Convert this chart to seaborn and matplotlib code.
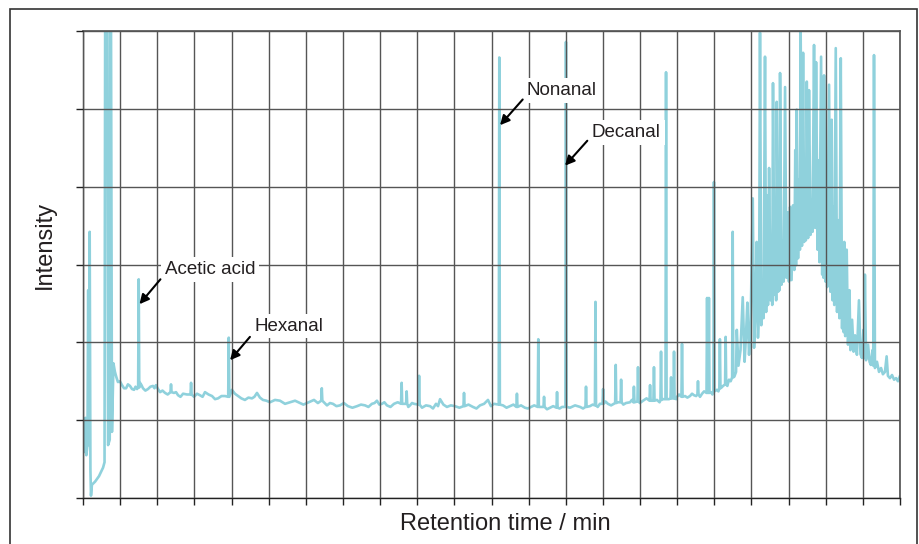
import numpy as np
import pandas as pd
import seaborn as sns
import matplotlib.pyplot as plt
from matplotlib.patches import Rectangle

sns.set_theme(style="white")
plt.rcParams['font.family'] = ['Liberation Sans', 'DejaVu Sans']

# ---- data (retention time in min, intensity in arbitrary units) ----
early_time = [0.00, 0.03, 0.05, 0.10, 0.13, 0.18, 0.24, 0.28, 0.31, 0.36, 0.40, 0.43,
              0.48, 0.65, 0.86, 1.08, 1.16, 1.21, 1.25, 1.29, 1.35, 1.44, 1.48, 1.56]
early_int = [0.66, 0.62, 0.75, 0.59, 1.03, 0.55, 0.68, 2.67, 0.68, 3.42, 0.36, 0.03,
             0.17, 0.21, 0.28, 0.39, 0.46, 9.00, 5.63, 9.00, 0.68, 0.75, 9.00, 0.85]

base_time = [1.64, 1.72, 1.88, 2.10, 2.32, 2.53, 2.75, 2.91, 3.07, 3.23, 3.50, 3.77,
             3.93, 4.15, 4.42, 4.90, 5.12, 5.39, 5.98, 6.30, 6.57, 6.95, 7.27, 7.65,
             8.02, 8.35, 8.72, 9.10, 9.37, 9.69, 10.07, 10.61, 11.15, 11.69, 12.06, 12.44,
             13.14, 13.46, 13.84, 14.27, 14.76, 15.19, 15.56, 15.83, 16.10, 16.37, 16.75, 17.29,
             17.61, 17.83, 18.26, 18.69, 19.01, 19.23, 19.60, 20.03, 21.00, 21.38, 21.81, 22.13,
             22.62, 23.00, 23.80, 24.13, 25.15, 25.80, 26.23, 26.77, 27.30, 27.84, 28.27, 28.81,
             29.24, 29.46, 30.16, 30.91, 31.24, 31.56, 31.99, 32.42, 32.69, 32.91, 33.34, 33.82,
             34.14, 34.47, 34.79, 35.17]
base_int = [1.73, 1.62, 1.49, 1.45, 1.41, 1.44, 1.39, 1.40, 1.48, 1.41, 1.40, 1.44,
            1.45, 1.36, 1.35, 1.35, 1.32, 1.34, 1.30, 1.32, 1.36, 1.31, 1.28, 1.31,
            1.39, 1.31, 1.26, 1.28, 1.35, 1.26, 1.23, 1.25, 1.23, 1.22, 1.22, 1.26,
            1.19, 1.21, 1.19, 1.18, 1.18, 1.19, 1.21, 1.25, 1.21, 1.19, 1.21, 1.21,
            1.19, 1.21, 1.16, 1.18, 1.21, 1.27, 1.17, 1.18, 1.17, 1.19, 1.26, 1.21,
            1.19, 1.18, 1.16, 1.17, 1.16, 1.17, 1.16, 1.17, 1.18, 1.21, 1.21, 1.23,
            1.22, 1.23, 1.25, 1.26, 1.27, 1.27, 1.30, 1.31, 1.31, 1.32, 1.34, 1.36,
            1.39, 1.44, 1.52, 1.62]

# baseline noise between the main baseline readings
ripple_time = [1.80, 1.99, 2.21, 2.42, 2.64, 2.83, 3.15, 3.36, 3.63, 3.85, 4.04, 4.28,
               4.56, 5.01, 5.25, 5.60, 6.14, 6.44, 6.76, 7.11, 7.46, 8.18, 8.53, 8.91,
               9.23, 9.53, 9.88, 10.34, 10.88, 11.42, 11.87, 12.25, 12.65, 13.30, 13.65, 14.05,
               14.51, 14.97, 15.37, 15.70, 15.96, 16.23, 16.56, 16.95, 17.52, 17.72, 18.47, 18.85,
               19.12, 19.41, 19.81, 20.27, 20.76, 21.19, 21.60, 21.97, 22.81, 23.18, 23.59, 23.96,
               24.30, 24.99, 25.32, 25.67, 26.50, 26.93, 27.45, 27.72, 28.14, 28.44, 29.10, 29.56,
               29.99, 30.35, 31.05, 31.95, 32.10, 32.55, 32.80, 33.02, 33.23, 33.45, 33.90, 34.22,
               34.39, 34.70, 34.88, 35.08]
ripple_int = [1.55, 1.50, 1.41, 1.46, 1.40, 1.43, 1.45, 1.38, 1.43, 1.41, 1.40, 1.38,
              1.33, 1.36, 1.30, 1.33, 1.34, 1.30, 1.33, 1.27, 1.31, 1.34, 1.28, 1.29,
              1.30, 1.29, 1.25, 1.26, 1.21, 1.25, 1.20, 1.24, 1.22, 1.22, 1.18, 1.22,
              1.16, 1.20, 1.17, 1.22, 1.20, 1.23, 1.17, 1.23, 1.17, 1.22, 1.19, 1.15,
              1.18, 1.20, 1.19, 1.16, 1.20, 1.15, 1.21, 1.18, 1.16, 1.20, 1.19, 1.15,
              1.19, 1.14, 1.18, 1.15, 1.19, 1.15, 1.20, 1.17, 1.24, 1.19, 1.20, 1.26,
              1.22, 1.28, 1.23, 1.27, 1.33, 1.29, 1.34, 1.31, 1.30, 1.37, 1.33, 1.37,
              1.42, 1.44, 1.50, 1.56]

peak_time = [3.00, 4.74, 5.82, 7.85, 12.86, 17.16, 17.43, 18.10, 20.52, 22.42, 23.37, 24.52,
             24.83, 25.53, 26.01, 27.09, 27.60, 28.01, 28.69, 28.98, 29.67, 29.89, 30.54, 30.75,
             31.13, 31.40, 31.67, 31.83, 32.26, 33.12, 33.61, 33.71, 33.98, 34.30, 34.61, 34.99]
peak_base = [1.42, 1.36, 1.33, 1.30, 1.25, 1.21, 1.21, 1.20, 1.18, 1.20, 1.17, 1.17,
             1.17, 1.16, 1.17, 1.17, 1.19, 1.21, 1.22, 1.23, 1.23, 1.24, 1.25, 1.25,
             1.26, 1.27, 1.28, 1.28, 1.30, 1.33, 1.35, 1.35, 1.37, 1.41, 1.46, 1.55]
peak_top = [2.81, 1.46, 1.48, 2.06, 1.41, 1.48, 1.37, 1.57, 1.35, 5.66, 1.34, 2.04,
            1.30, 1.36, 5.86, 1.43, 2.52, 1.40, 1.71, 1.52, 1.43, 1.68, 1.45, 1.68,
            1.88, 5.47, 1.55, 1.88, 1.98, 1.50, 2.57, 2.57, 4.06, 2.04, 2.07, 3.42]

hump_time = [35.21, 35.30, 35.41, 35.53, 35.63, 35.70, 35.78, 35.87, 35.95, 36.07, 36.14, 36.20,
             36.28, 36.35, 36.41, 36.46, 36.53, 36.59, 36.65, 36.73, 36.79, 36.82, 36.89, 36.95,
             37.03, 37.08, 37.12, 37.16, 37.24, 37.30, 37.33, 37.36, 37.44, 37.48, 37.51, 37.54,
             37.62, 37.67, 37.73, 37.81, 37.88, 37.95, 38.02, 38.08, 38.16, 38.24, 38.31, 38.36,
             38.40, 38.44, 38.51, 38.56, 38.61, 38.65, 38.72, 38.78, 38.84, 38.88, 38.93, 38.98,
             39.05, 39.10, 39.18, 39.25, 39.29, 39.37, 39.43, 39.48, 39.56, 39.61, 39.66, 39.75,
             39.81, 39.85, 39.88, 39.91, 39.99, 40.04, 40.08, 40.18, 40.25, 40.32, 40.37, 40.42,
             40.46, 40.54, 40.61, 40.69, 40.74, 40.81, 40.88, 40.93, 40.97, 41.00, 41.05, 41.13,
             41.20, 41.28, 41.33, 41.42, 41.50, 41.58, 41.68, 41.79, 41.87, 41.95, 42.03, 42.07,
             42.11, 42.17, 42.28, 42.36, 42.43, 42.52, 42.56, 42.60, 42.65, 42.76, 42.87, 42.98,
             43.08, 43.19, 43.28, 43.35, 43.46, 43.57, 43.68, 43.79, 43.89, 44.00]
hump_int = [2.16, 1.70, 1.90, 2.58, 1.75, 2.06, 2.51, 1.84, 2.16, 3.85, 1.93, 2.29,
            3.29, 2.06, 2.42, 5.98, 2.22, 2.80, 2.31, 5.67, 2.39, 3.89, 2.48, 4.24,
            2.54, 3.19, 2.48, 5.33, 2.61, 3.35, 2.54, 5.09, 2.65, 3.96, 2.67, 5.46,
            2.74, 3.31, 2.78, 5.28, 2.83, 3.67, 2.78, 3.74, 2.80, 3.76, 2.93, 4.47,
            2.99, 4.99, 3.08, 4.09, 3.19, 5.99, 3.24, 5.72, 3.29, 3.48, 3.31, 5.35,
            3.34, 5.24, 3.38, 3.83, 3.42, 5.82, 3.47, 5.60, 3.19, 4.34, 3.03, 5.67,
            2.87, 4.05, 2.83, 5.43, 2.78, 3.83, 2.71, 5.31, 2.65, 4.86, 2.54, 3.74,
            2.48, 5.78, 2.39, 3.57, 2.31, 5.65, 2.18, 3.06, 2.13, 3.29, 2.08, 3.19,
            1.97, 2.67, 1.90, 2.29, 1.88, 2.09, 1.84, 2.54, 1.85, 1.80, 2.16, 1.80,
            2.87, 1.77, 1.97, 1.75, 1.71, 1.90, 1.70, 5.69, 1.67, 1.75, 1.62, 1.67,
            1.59, 1.62, 1.82, 1.57, 1.54, 1.58, 1.52, 1.54, 1.50, 1.57]

annot_labels = ["Acetic acid", "Hexanal", "Nonanal", "Decanal"]
annot_head_t = [3.04, 7.92, 22.46, 25.96]
annot_head_y = [2.49, 1.77, 4.79, 4.27]
annot_tail_t = [4.17, 8.99, 23.68, 27.16]
annot_tail_y = [2.81, 2.07, 5.12, 4.59]
annot_text_t = [4.42, 9.26, 23.91, 27.41]
annot_text_y = [2.88, 2.15, 5.18, 4.64]

# ---- build chromatogram table ----
rows = list(zip(early_time, early_int)) + list(zip(base_time, base_int))
rows += list(zip(ripple_time, ripple_int))
for t, b, h in zip(peak_time, peak_base, peak_top):
    rows += [(t - 0.03, b), (t, h), (t + 0.03, b)]
rows += list(zip(hump_time, hump_int))
df = pd.DataFrame(rows, columns=["time", "intensity"]).sort_values("time", kind="stable")

# ---- figure ----
W, H = 919, 544
fig = plt.figure(figsize=(W / 100, H / 100), dpi=100)
ax = fig.add_axes([83 / W, 1 - 498 / H, 817 / W, 467 / H])

sns.lineplot(data=df, x="time", y="intensity", ax=ax, estimator=None, sort=False,
             color="#8fd1dc", lw=1.9)

ax.set_xlim(0, 44)
ax.set_ylim(0, 6)
ax.set_xticks(np.arange(0, 45, 2))
ax.set_yticks(np.arange(0, 7, 1))
ax.set_xticklabels([])
ax.set_yticklabels([])
ax.tick_params(direction="out", length=5, width=1, color="#222222", bottom=True, left=True)
ax.grid(True, color="#555555", lw=1)
ax.set_axisbelow(False)
for side in ["top", "right"]:
    ax.spines[side].set_color("#555555")
for side in ["left", "bottom"]:
    ax.spines[side].set_color("#222222")
    ax.spines[side].set_linewidth(1)

ax.set_xlabel("Retention time / min", fontsize=17, color="#231f20")
ax.set_ylabel("Intensity", fontsize=17, color="#231f20")
ax.xaxis.set_label_coords(0.5165, -0.033)
ax.yaxis.set_label_coords(-0.033, 0.542)

for lab, ht, hy, tt, ty, xt, yt in zip(annot_labels, annot_head_t, annot_head_y,
                                       annot_tail_t, annot_tail_y, annot_text_t, annot_text_y):
    ax.text(xt, yt, lab, fontsize=13.5, color="#231f20", ha="left", va="baseline",
            bbox=dict(boxstyle="square,pad=0.2", fc="white", ec="none"), zorder=4)
    ax.annotate("", xy=(ht, hy), xytext=(tt, ty),
                arrowprops=dict(arrowstyle="-|>", color="black", lw=1.5,
                                mutation_scale=14, shrinkA=0, shrinkB=0), zorder=5)

fig.add_artist(Rectangle((10 / W, -0.05), 907 / W, (H - 9) / H + 0.05,
                         transform=fig.transFigure, fill=False, ec="#333333", lw=1.2))

fig.savefig("out.png", dpi=100)
